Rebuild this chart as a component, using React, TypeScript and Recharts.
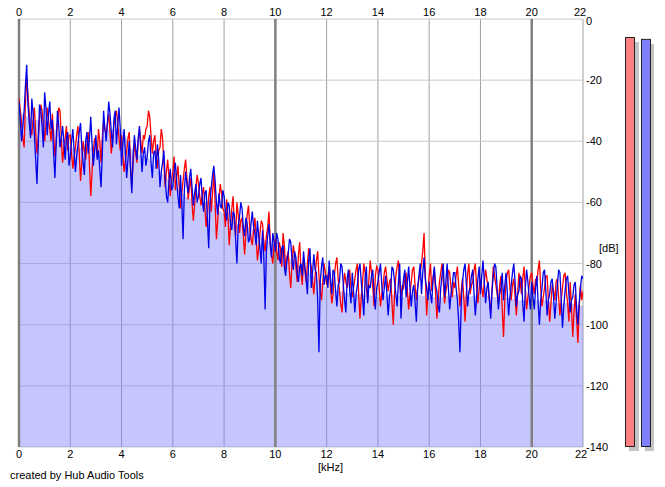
import React from 'react';
import { ComposedChart, BarChart, Bar, Line, Area, XAxis, YAxis, CartesianGrid, ReferenceLine } from 'recharts';

// spectrum sampled every 0.05 kHz, 0..22 kHz (dB), one row per kHz
const blueDb = [
  -27, -33, -40, -35, -30, -22, -15, -28, -34, -39, -26, -31, -38, -46, -54, -41, -28, -30, -35, -42,
  -24, -29, -38, -31, -27, -36, -33, -44, -52, -41, -30, -35, -42, -39, -35, -40, -46, -39, -37, -48,
  -45, -40, -36, -43, -50, -45, -41, -37, -34, -42, -47, -51, -40, -37, -44, -39, -32, -41, -48, -43,
  -38, -46, -43, -49, -55, -44, -30, -36, -40, -34, -27, -31, -37, -42, -33, -30, -41, -35, -29, -36,
  -48, -41, -36, -44, -52, -46, -40, -49, -57, -45, -38, -42, -46, -39, -35, -43, -50, -44, -42, -48,
  -45, -40, -38, -47, -52, -44, -43, -49, -41, -46, -55, -50, -47, -43, -52, -58, -60, -53, -49, -56,
  -55, -50, -47, -53, -58, -62, -51, -60, -72, -56, -50, -54, -57, -52, -49, -55, -61, -57, -54, -60,
  -58, -54, -52, -59, -63, -57, -56, -66, -75, -60, -55, -51, -48, -53, -60, -64, -57, -61, -62, -56,
  -58, -63, -66, -60, -61, -67, -69, -63, -64, -72, -80, -68, -65, -60, -62, -68, -71, -65, -67, -73,
  -72, -67, -63, -68, -70, -74, -66, -71, -75, -80, -69, -78, -95, -76, -71, -67, -74, -78, -70, -73,
  -76, -70, -72, -78, -80, -75, -74, -81, -84, -79, -77, -72, -73, -79, -82, -76, -78, -83, -86, -81,
  -80, -84, -76, -81, -85, -90, -79, -75, -88, -83, -77, -82, -83, -92, -109, -86, -81, -78, -87, -84,
  -84, -88, -79, -85, -90, -82, -83, -89, -94, -87, -86, -80, -81, -87, -92, -96, -85, -82, -89, -93,
  -83, -89, -96, -90, -87, -82, -80, -86, -91, -97, -85, -81, -93, -87, -88, -84, -82, -90, -95, -88,
  -86, -83, -80, -87, -92, -88, -84, -90, -97, -91, -88, -81, -82, -86, -90, -94, -86, -80, -98, -89,
  -85, -82, -91, -86, -81, -88, -94, -89, -87, -93, -99, -88, -84, -80, -90, -83, -78, -85, -88, -92,
  -86, -90, -93, -85, -81, -87, -89, -94, -96, -88, -84, -80, -91, -86, -80, -88, -95, -90, -87, -83,
  -83, -88, -92, -99, -109, -93, -86, -82, -80, -87, -94, -89, -88, -84, -82, -90, -97, -91, -85, -81,
  -90, -84, -79, -86, -93, -88, -86, -92, -98, -89, -84, -80, -81, -88, -95, -90, -88, -83, -92, -87,
  -83, -90, -97, -91, -87, -83, -80, -86, -94, -90, -89, -84, -85, -93, -99, -88, -82, -86, -91, -95,
  -86, -91, -95, -88, -84, -93, -100, -92, -88, -83, -82, -89, -97, -92, -90, -86, -85, -91, -98, -93,
  -87, -82, -83, -92, -101, -94, -89, -85, -84, -90, -96, -92, -91, -87, -86, -95, -100, -93, -88, -84,
  -85,
];

const redDb = [
  -26, -30, -34, -39, -42, -28, -19, -25, -31, -36, -38, -33, -29, -37, -44, -39, -33, -28, -30, -35,
  -40, -35, -29, -33, -36, -40, -31, -38, -45, -40, -34, -29, -30, -39, -47, -42, -39, -35, -43, -38,
  -38, -44, -49, -45, -42, -38, -35, -44, -53, -47, -40, -43, -46, -41, -37, -48, -58, -50, -43, -39,
  -41, -45, -36, -40, -47, -39, -33, -36, -38, -34, -31, -37, -44, -40, -35, -32, -30, -34, -39, -43,
  -38, -45, -50, -46, -43, -39, -37, -48, -55, -47, -41, -44, -47, -40, -36, -40, -44, -38, -39, -36,
  -35, -30, -32, -38, -44, -40, -38, -45, -49, -43, -42, -36, -39, -47, -55, -50, -46, -52, -58, -53,
  -50, -45, -56, -52, -48, -55, -62, -57, -53, -49, -46, -52, -59, -55, -52, -60, -66, -61, -55, -51,
  -54, -58, -61, -57, -55, -62, -68, -64, -58, -55, -63, -57, -50, -60, -72, -66, -59, -54, -57, -62,
  -63, -68, -59, -64, -74, -68, -62, -58, -67, -71, -60, -64, -70, -66, -65, -71, -77, -70, -64, -61,
  -68, -72, -74, -69, -65, -71, -79, -75, -70, -66, -67, -73, -76, -71, -68, -63, -73, -77, -80, -74,
  -72, -76, -79, -73, -75, -81, -70, -74, -82, -78, -76, -83, -88, -80, -74, -77, -81, -86, -77, -73,
  -83, -87, -78, -82, -86, -80, -75, -79, -81, -86, -90, -84, -79, -76, -84, -89, -92, -86, -80, -83,
  -87, -84, -81, -88, -93, -90, -84, -80, -78, -85, -89, -93, -96, -88, -83, -86, -88, -85, -82, -88,
  -91, -88, -85, -82, -80, -90, -98, -91, -86, -80, -83, -88, -92, -85, -79, -83, -88, -94, -84, -81,
  -82, -88, -94, -90, -87, -83, -81, -85, -89, -86, -85, -93, -100, -90, -84, -81, -79, -86, -91, -87,
  -88, -85, -83, -89, -95, -90, -86, -82, -81, -87, -92, -88, -85, -83, -80, -76, -70, -84, -97, -90,
  -84, -80, -89, -85, -82, -90, -98, -92, -86, -83, -80, -86, -93, -89, -87, -82, -83, -88, -91, -86,
  -88, -84, -81, -87, -94, -89, -85, -91, -99, -90, -83, -80, -90, -87, -86, -82, -80, -88, -93, -88,
  -85, -88, -91, -86, -82, -85, -88, -92, -96, -89, -81, -84, -87, -90, -93, -87, -84, -95, -104, -92,
  -86, -83, -82, -88, -92, -87, -85, -91, -97, -90, -83, -86, -90, -85, -81, -88, -95, -91, -87, -84,
  -83, -87, -90, -85, -86, -82, -79, -88, -94, -91, -88, -84, -84, -92, -99, -93, -87, -89, -92, -86,
  -85, -91, -97, -92, -88, -84, -83, -89, -93, -99, -86, -94, -104, -96, -90, -98, -106, -95, -87, -92,
  -89,
];

// lavender floor, every 0.5 kHz
const floorDb = [
  -30, -33, -33, -37, -42, -42, -42, -36, -36, -44,
  -45, -50, -54, -58, -60, -60, -64, -67, -68, -72,
  -74, -78, -81, -84, -88, -89, -90, -90, -91, -90,
  -91, -90, -91, -91, -90, -91, -90, -91, -91, -92,
  -92, -92, -93, -93, -94,
];

const freqTicks = [0, 2, 4, 6, 8, 10, 12, 14, 16, 18, 20, 22];
const dbTicks = [0, -20, -40, -60, -80, -100, -120, -140];
const majorLines = [0, 10, 20];

const channels = ['L', 'R'];
const levelDb = [-5.9, -6.5];
const levelColors = ['#ff8080', '#8080ff'];

const data = blueDb.map((b, i) => ({
  f: i / 20,
  blue: b,
  red: redDb[i],
  floor: i % 10 === 0 ? floorDb[i / 10] : null,
}));

const meterData = channels.map((c, i) => ({ ch: c, level: [-140, levelDb[i]] }));

const font = { fontFamily: '"Liberation Sans", Arial, sans-serif', fontSize: 11 };

const TopTick = ({ x, y, payload }: any) => (
  <text x={x + (payload.value === 22 ? -3 : 0)} y={y - 3} textAnchor="middle" fill="#000" style={font}>
    {payload.value}
  </text>
);

const BottomTick = ({ x, y, payload }: any) => (
  <text x={x + (payload.value === 22 ? -2 : 0)} y={y + 11} textAnchor="middle" fill="#000" style={font}>
    {payload.value}
  </text>
);

const RightTick = ({ x, y, payload }: any) => (
  <text x={x + 3} y={y + (payload.value === 0 ? 6 : 4)} textAnchor="start" fill="#000" style={font}>
    {payload.value}
  </text>
);

const MeterBar = (props: any) => {
  const { x, y, width, height, index } = props;
  return (
    <g>
      <rect x={x + 4} y={y + 5} width={width} height={height - 1} fill="#c4c4c4" />
      <rect x={x + 0.5} y={y + 0.5} width={width - 1} height={height - 1} fill={levelColors[index]} stroke="#202020" strokeWidth={1} />
    </g>
  );
};

export default function App() {
  return (
    <div style={{ position: 'absolute', left: 0, top: 0, width: 665, height: 487, background: '#fff' }}>
      <ComposedChart
        width={665}
        height={487}
        data={data}
        margin={{ top: 0, right: 0, bottom: 0, left: 19 }}
      >
        <CartesianGrid xAxisId="bottom" stroke="#a0a0a0" horizontal={false} />
        <CartesianGrid xAxisId="bottom" stroke="#c8c8c8" vertical={false} />
        <XAxis
          xAxisId="bottom"
          dataKey="f"
          type="number"
          domain={[0, 22]}
          allowDataOverflow
          ticks={freqTicks}
          orientation="bottom"
          height={40}
          axisLine={false}
          tickLine={false}
          tickSize={0}
          tickMargin={0}
          tick={<BottomTick />}
          interval={0}
        />
        <XAxis
          xAxisId="top"
          dataKey="f"
          type="number"
          domain={[0, 22]}
          allowDataOverflow
          ticks={freqTicks}
          orientation="top"
          height={19}
          axisLine={false}
          tickLine={false}
          tickSize={0}
          tickMargin={0}
          tick={<TopTick />}
          interval={0}
        />
        <YAxis
          type="number"
          domain={[-140, 0]}
          ticks={dbTicks}
          orientation="right"
          width={82}
          axisLine={false}
          tickLine={false}
          tickSize={0}
          tickMargin={0}
          tick={<RightTick />}
          interval={0}
        />
        <Area
          xAxisId="bottom"
          dataKey="floor"
          type="linear"
          baseValue="dataMin"
          stroke="none"
          fill="#8080ff"
          fillOpacity={0.45}
          connectNulls
          isAnimationActive={false}
        />
        {majorLines.map((v) => (
          <ReferenceLine key={v} xAxisId="bottom" x={v} stroke="#808080" strokeWidth={2.5} />
        ))}
        <Line
          xAxisId="bottom"
          dataKey="red"
          type="linear"
          stroke="#ff0000"
          strokeWidth={1.3}
          dot={false}
          isAnimationActive={false}
        />
        <Line
          xAxisId="bottom"
          dataKey="blue"
          type="linear"
          stroke="#0000e8"
          strokeWidth={1.3}
          dot={false}
          isAnimationActive={false}
        />
      </ComposedChart>

      <svg width={665} height={487} style={{ position: 'absolute', left: 0, top: 0, pointerEvents: 'none' }}>
        <text x={599} y={252} fill="#000" style={font}>[dB]</text>
        <text x={318} y={471} fill="#000" style={font}>[kHz]</text>
        <text x={10} y={479} fill="#000" style={font}>created by Hub Audio Tools</text>
      </svg>

      <div style={{ position: 'absolute', left: 622, top: 0 }}>
        <BarChart
          width={32}
          height={487}
          data={meterData}
          margin={{ top: 19, right: 0, bottom: 40, left: 0 }}
          barCategoryGap={0}
        >
          <XAxis dataKey="ch" hide />
          <YAxis type="number" domain={[-140, 0]} hide />
          <Bar dataKey="level" barSize={10} shape={<MeterBar />} isAnimationActive={false} />
        </BarChart>
      </div>
    </div>
  );
}
